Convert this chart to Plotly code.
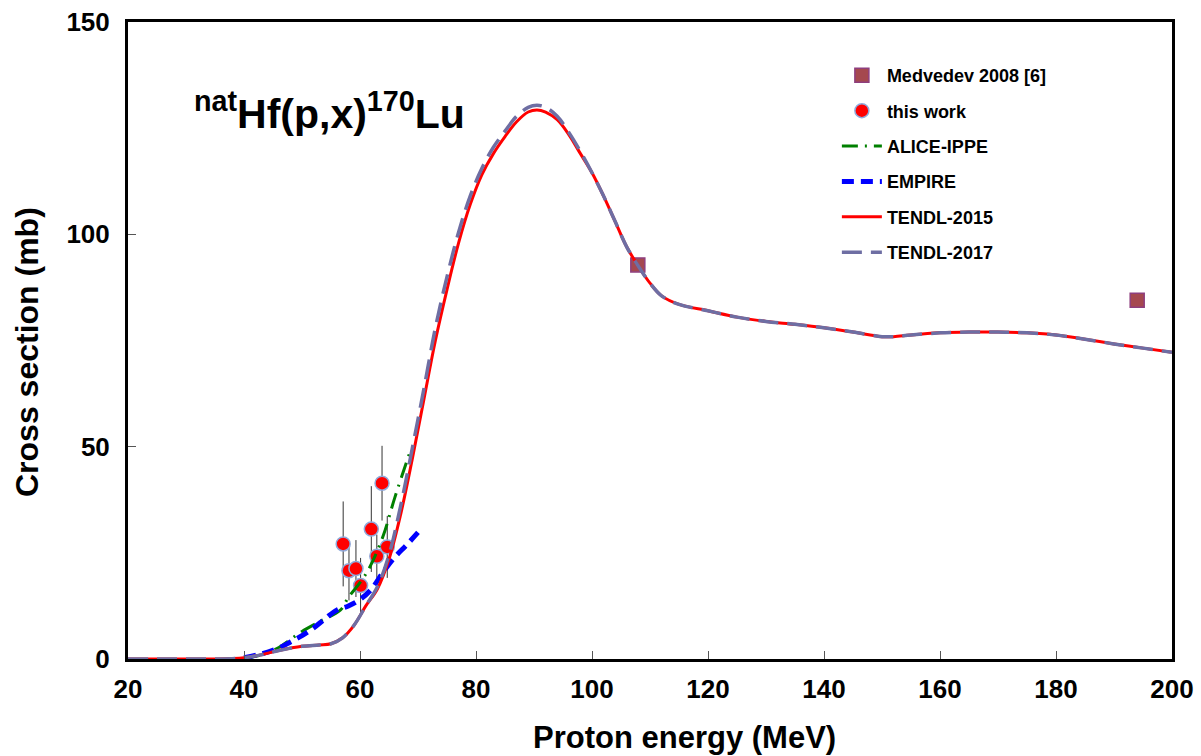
import plotly.graph_objects as go

# ---------------- data ----------------
tendl15_x = [20, 25, 30, 35, 40, 43, 46, 50, 53, 55, 57, 59, 61, 63, 65, 67, 69, 71, 73, 75, 77, 79, 81, 83, 85, 87, 89, 90.5, 92, 94, 96, 98, 100, 102, 104, 106, 108, 110, 112, 115, 120, 125, 130, 135, 140, 145, 150, 152, 155, 160, 165, 170, 175, 180, 185, 190, 195, 200]
tendl15_y = [0, 0, 0, 0, 0.3, 1.0, 2.0, 3.0, 3.3, 3.6, 5.0, 8.0, 12.5, 16.5, 23.5, 34, 47, 61, 75, 87, 98, 107, 114, 119, 123, 126.5, 128.8, 129.3, 128.8, 127, 123.5, 119, 114.5, 109, 103, 97, 92.5, 88.5, 85.5, 83.5, 82, 80.5, 79.5, 78.8, 78, 77, 75.9, 75.9, 76.3, 76.8, 77, 77, 76.8, 76.3, 75.3, 74.2, 73.2, 72.2]

tendl17_x = [20, 25, 30, 35, 40, 43, 46, 50, 53, 55, 57, 59, 61, 63, 65, 67, 69, 71, 73, 75, 77, 79, 81, 83, 85, 87, 89, 90.5, 92, 94, 96, 98, 100, 102, 104, 106, 108, 110, 112, 115, 120, 125, 130, 135, 140, 145, 150, 152, 155, 160, 165, 170, 175, 180, 185, 190, 195, 200]
tendl17_y = [0, 0, 0, 0, 0.3, 1.0, 2.0, 3.0, 3.3, 3.6, 5.0, 8.0, 12.5, 17, 24.5, 36, 49.5, 63.5, 78, 90, 100.5, 109, 115.5, 120.5, 124.3, 127.8, 129.9, 130.4, 129.9, 127.8, 124, 119.5, 114.5, 109, 103, 97, 92.5, 88.5, 85.5, 83.5, 82, 80.5, 79.5, 78.8, 78, 77, 75.9, 75.9, 76.3, 76.8, 77, 77, 76.8, 76.3, 75.3, 74.2, 73.2, 72.2]

alice_x = [40, 43, 46, 48, 50, 53, 56.6, 58, 60, 61.1, 62, 64, 66, 68.8]
alice_y = [0, 1.0, 2.7, 4.6, 6.5, 8.8, 11.5, 14.5, 18, 20.2, 22.5, 29, 38, 49.5]

empire_x = [40, 43, 46, 48, 50, 52, 54, 56, 58, 60, 62, 64, 66, 68, 70]
empire_y = [0.3, 1.2, 2.6, 4.0, 5.5, 7.3, 9.5, 11.5, 12.5, 14.0, 16.5, 20.5, 24.0, 26.8, 29.8]

work_x = [57.1, 58.1, 59.3, 60.1, 61.95, 62.9, 63.8, 64.7]
work_y = [27.1, 20.8, 21.3, 17.3, 30.6, 24.2, 41.4, 26.4]
work_err = [10.0, 7.0, 6.7, 6.5, 10.1, 5.1, 8.8, 7.3]

medv_x = [107.9, 194.0]
medv_y = [92.8, 84.5]

x_title = "Proton energy (MeV)"
y_title = "Cross section (mb)"
chart_label = "<sup>nat</sup>Hf(p,x)<sup>170</sup>Lu"

FONT = "Arial, Liberation Sans, sans-serif"

fig = go.Figure()

fig.add_trace(go.Scatter(
    x=medv_x, y=medv_y, mode="markers", name="Medvedev 2008 [6]",
    marker=dict(symbol="square", size=14, color="#A5484F",
                line=dict(color="#8E3E7E", width=1.5)),
    legendgroup="a"))

fig.add_trace(go.Scatter(
    x=work_x, y=work_y, mode="markers", name="this work",
    marker=dict(symbol="circle", size=14, color="#FF0000",
                line=dict(color="#8FAADC", width=1.5)),
    error_y=dict(type="data", array=work_err, visible=True,
                 color="#333333", thickness=1, width=0),
    legendgroup="b"))

fig.add_trace(go.Scatter(
    x=alice_x, y=alice_y, mode="lines", name="ALICE-IPPE",
    line=dict(color="#008000", width=3, dash="16px,7px,2px,7px", shape="spline"),
    legendgroup="c"))

fig.add_trace(go.Scatter(
    x=empire_x, y=empire_y, mode="lines", name="EMPIRE",
    line=dict(color="#0000FF", width=5, dash="12px,7px", shape="spline"),
    legendgroup="d"))

fig.add_trace(go.Scatter(
    x=tendl15_x, y=tendl15_y, mode="lines", name="TENDL-2015",
    line=dict(color="#FF0000", width=3, shape="spline"),
    legendgroup="e"))

fig.add_trace(go.Scatter(
    x=tendl17_x, y=tendl17_y, mode="lines", name="TENDL-2017",
    line=dict(color="#6E6EA3", width=3.5, dash="20px,9px", shape="spline"),
    legendgroup="f"))

fig.add_annotation(
    x=0.061, y=0.86, xref="paper", yref="paper", xanchor="left", yanchor="middle",
    text="<b>" + chart_label + "</b>", showarrow=False,
    font=dict(family=FONT, size=41, color="black"))

# axis titles placed as annotations for exact placement
fig.add_annotation(
    x=0.5326, y=-0.124, xref="paper", yref="paper", xanchor="center", yanchor="middle",
    text="<b>" + x_title + "</b>", showarrow=False,
    font=dict(family=FONT, size=31, color="black"))
fig.add_annotation(
    x=-0.0967, y=0.482, xref="paper", yref="paper", xanchor="center", yanchor="middle",
    text="<b>" + y_title + "</b>", showarrow=False, textangle=-90,
    font=dict(family=FONT, size=32, color="black"))

fig.update_layout(
    width=1201, height=756,
    margin=dict(l=128, r=29, t=22, b=97),
    paper_bgcolor="white", plot_bgcolor="white",
    font=dict(family=FONT, color="black"),
    showlegend=True,
    legend=dict(x=0.679, y=0.945, xanchor="left", yanchor="top",
                bgcolor="rgba(0,0,0,0)", tracegroupgap=9,
                font=dict(family=FONT, size=18, color="black", weight="bold"),
                itemwidth=40),
    xaxis=dict(range=[20, 200], dtick=20, tick0=20, automargin=False,
               showgrid=False, zeroline=False,
               showline=True, linecolor="black", linewidth=3, mirror=True,
               ticks="inside", ticklen=8, tickwidth=1, tickcolor="#555555",
               ticklabelstandoff=5,
               tickfont=dict(family=FONT, size=26, color="black", weight="bold")),
    yaxis=dict(range=[0, 150], dtick=50, automargin=False,
               showgrid=False, zeroline=False,
               showline=True, linecolor="black", linewidth=3, mirror=True,
               ticks="inside", ticklen=8, tickwidth=1, tickcolor="#555555",
               ticklabelstandoff=10,
               tickfont=dict(family=FONT, size=26, color="black", weight="bold")),
)

fig.write_html("out.html")
